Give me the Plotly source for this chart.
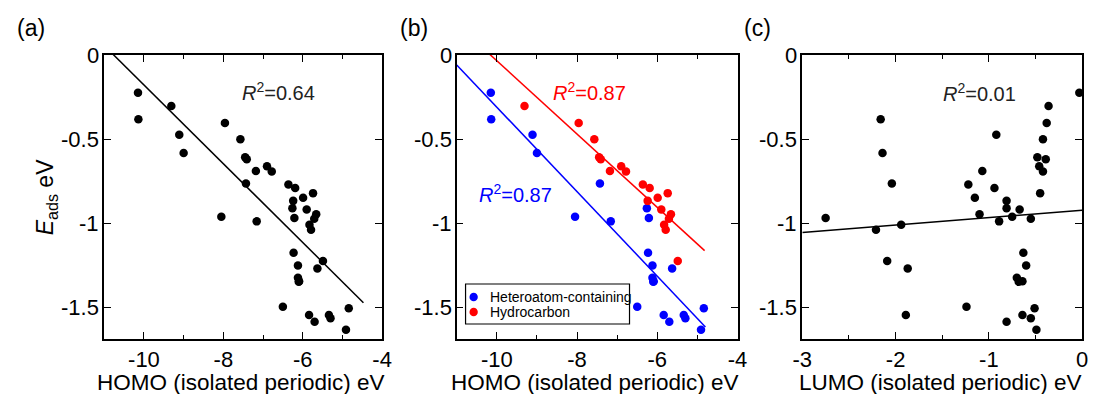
import plotly.graph_objects as go

# ---------------- data ----------------
homo = [-10.15, -9.31, -10.14, -7.96, -9.11, -7.57, -9.00, -7.45, -7.41, -6.90,
        -7.18, -6.78, -7.43, -6.36, -6.19, -5.74, -5.99, -6.24, -6.26, -5.90,
        -5.66, -8.05, -6.21, -5.71, -7.16, -5.83, -5.79, -6.23, -5.49, -6.12,
        -5.63, -6.12, -6.09, -6.10, -6.50, -4.84, -5.84, -5.34, -5.30, -5.70, -4.91]
lumo = [-0.03, -0.36, -2.16, -0.38, -0.92, -0.42, -2.14, -0.48, -0.39, -0.46,
        -1.07, -0.42, -2.04, -1.22, -0.94, -0.45, -1.15, -0.81, -0.81, -0.67,
        -1.10, -0.75, -2.75, -0.55, -0.89, -1.94, -2.21, -0.63, -2.09, -0.60,
        -1.87, -0.70, -0.64, -0.68, -1.24, -0.51, -1.89, -0.64, -0.55, -0.81, -0.49]
eads = [-0.225, -0.304, -0.383, -0.404, -0.475, -0.501, -0.583, -0.608, -0.620, -0.662,
        -0.690, -0.693, -0.764, -0.770, -0.792, -0.822, -0.850, -0.868, -0.912, -0.920,
        -0.948, -0.962, -0.970, -0.975, -0.990, -1.010, -1.040, -1.177, -1.226, -1.252,
        -1.270, -1.325, -1.347, -1.350, -1.498, -1.507, -1.547, -1.547, -1.567, -1.588, -1.635]
group = ["H", "C", "H", "C", "H", "C", "H", "C", "C", "C",
         "C", "C", "H", "C", "C", "C", "C", "C", "H", "C",
         "C", "H", "H", "C", "H", "C", "C", "H", "C", "H",
         "H", "H", "H", "H", "H", "H", "H", "H", "H", "H", "H"]

# fitted lines (endpoints)
fit_a_x = [-11.0, -4.47]
fit_a_y = [0.056, -1.474]
fit_b_hc_x = [-10.3, -4.82]
fit_b_hc_y = [0.031, -1.164]
fit_b_het_x = [-11.0, -4.80]
fit_b_het_y = [-0.059, -1.618]
fit_c_x = [-3.0, 0.0]
fit_c_y = [-1.056, -0.924]

r2_labels = ["<i>R</i><sup>2</sup>=0.64", "<i>R</i><sup>2</sup>=0.87",
             "<i>R</i><sup>2</sup>=0.87", "<i>R</i><sup>2</sup>=0.01"]
legend_names = ["Heteroatom-containing", "Hydrocarbon"]

homo_tickvals = [-10, -8, -6, -4]
homo_ticktext = ["-10", "-8", "-6", "-4"]
homo_minor = [-11, -10, -9, -8, -7, -6, -5, -4]
lumo_tickvals = [-3, -2, -1, 0]
lumo_ticktext = ["-3", "-2", "-1", "0"]
lumo_minor = [-3, -2.5, -2, -1.5, -1, -0.5, 0]
y_tickvals = [0, -0.5, -1, -1.5]
y_ticktext = ["0", "-0.5", "-1", "-1.5"]

BLUE = "#0000ff"
RED = "#ff0000"
FONT = "Liberation Sans, Arial, sans-serif"

W, H = 1099, 394
def px(x):
    return x / W
def py(y):
    return 1 - y / H

top, bottom = 55, 339
doms = [(96, 379), (455, 741), (807, 1092)]

fig = go.Figure()

het_x = [h for h, g in zip(homo, group) if g == "H"]
het_y = [e for e, g in zip(eads, group) if g == "H"]
hc_x = [h for h, g in zip(homo, group) if g == "C"]
hc_y = [e for e, g in zip(eads, group) if g == "C"]

# panel (a)
fig.add_trace(go.Scatter(x=fit_a_x, y=fit_a_y, mode="lines", line=dict(color="black", width=1.5),
                         showlegend=False, xaxis="x", yaxis="y"))
fig.add_trace(go.Scatter(x=homo, y=eads, mode="markers", marker=dict(color="black", size=8.5),
                         showlegend=False, xaxis="x", yaxis="y"))
# panel (b)
fig.add_trace(go.Scatter(x=fit_b_hc_x, y=fit_b_hc_y, mode="lines", line=dict(color=RED, width=1.5),
                         showlegend=False, xaxis="x2", yaxis="y2"))
fig.add_trace(go.Scatter(x=fit_b_het_x, y=fit_b_het_y, mode="lines", line=dict(color=BLUE, width=1.5),
                         showlegend=False, xaxis="x2", yaxis="y2"))
fig.add_trace(go.Scatter(x=het_x, y=het_y, mode="markers", marker=dict(color=BLUE, size=8.5),
                         name=legend_names[0], showlegend=False, xaxis="x2", yaxis="y2"))
fig.add_trace(go.Scatter(x=hc_x, y=hc_y, mode="markers", marker=dict(color=RED, size=8.5),
                         name=legend_names[1], showlegend=False, xaxis="x2", yaxis="y2"))
# panel (c)
fig.add_trace(go.Scatter(x=fit_c_x, y=fit_c_y, mode="lines", line=dict(color="black", width=1.5),
                         showlegend=False, xaxis="x3", yaxis="y3"))
fig.add_trace(go.Scatter(x=lumo, y=eads, mode="markers", marker=dict(color="black", size=8.5),
                         showlegend=False, xaxis="x3", yaxis="y3"))

common = dict(showline=True, linecolor="black", linewidth=1.5, mirror="ticks",
              ticks="inside", ticklen=7, tickwidth=1.3, tickcolor="black",
              showgrid=False, zeroline=False, tickfont=dict(family=FONT, size=22, color="black"))

layout = dict(width=W, height=H, margin=dict(l=0, r=0, t=0, b=0), showlegend=False,
              paper_bgcolor="white", plot_bgcolor="white", font=dict(family=FONT, color="black"))

ann = []
for i, (d0, d1) in enumerate(doms):
    sfx = "" if i == 0 else str(i + 1)
    if i < 2:
        xr, tv, tt, mv = [-11, -4], homo_tickvals, homo_ticktext, homo_minor
    else:
        xr, tv, tt, mv = [-3, 0], lumo_tickvals, lumo_ticktext, lumo_minor
    layout["xaxis" + sfx] = dict(common, domain=[px(d0), px(d1)], range=xr,
                                 tickmode="array", tickvals=tv, ticktext=tt,
                                 minor=dict(tickmode="array", tickvals=mv, ticks="inside",
                                            ticklen=4, tickwidth=1.3, tickcolor="black"),
                                 anchor="y" + sfx, ticklabelstandoff=0)
    layout["yaxis" + sfx] = dict(common, domain=[py(bottom), py(top)], range=[-1.69, 0],
                                 tickmode="array", tickvals=y_tickvals, ticktext=y_ticktext,
                                 showticklabels=False, anchor="x" + sfx)
    # y tick labels placed right next to the axis line
    for v, t in zip(y_tickvals, y_ticktext):
        ann.append(dict(x=0, y=v, xref="x%s domain" % sfx, yref="y" + sfx, text=t,
                        showarrow=False, xanchor="right", yanchor="middle", xshift=-3,
                        font=dict(family=FONT, size=22, color="black")))

fig.update_layout(**layout)

# legend box for panel (b)
shapes = [dict(type="rect", xref="paper", yref="paper", x0=px(464), x1=px(631), y0=py(324), y1=py(284),
               line=dict(color="black", width=1.2), fillcolor="white", layer="above")]
for yc, col in zip([297, 312], [BLUE, RED]):
    shapes.append(dict(type="circle", xref="paper", yref="paper", x0=px(468), x1=px(476.5),
                       y0=py(yc + 4.25), y1=py(yc - 4.25), line=dict(width=0), fillcolor=col,
                       layer="above"))
fig.update_layout(shapes=shapes)

for yc, name in zip([297, 312], legend_names):
    ann.append(dict(x=px(487), y=py(yc), xref="paper", yref="paper", text=name, showarrow=False,
                    xanchor="left", yanchor="middle", font=dict(family=FONT, size=14, color="black")))
# R^2 labels
ann.append(dict(x=-6.6, y=-0.218, xref="x", yref="y", text=r2_labels[0], showarrow=False,
                font=dict(family=FONT, size=20, color="#222")))
ann.append(dict(x=-7.70, y=-0.218, xref="x2", yref="y2", text=r2_labels[1], showarrow=False,
                font=dict(family=FONT, size=20, color=RED)))
ann.append(dict(x=-9.54, y=-0.822, xref="x2", yref="y2", text=r2_labels[2], showarrow=False,
                font=dict(family=FONT, size=20, color=BLUE)))
ann.append(dict(x=-1.095, y=-0.221, xref="x3", yref="y3", text=r2_labels[3], showarrow=False,
                font=dict(family=FONT, size=20, color="#222")))
# axis titles
xt = ["HOMO (isolated periodic) eV", "HOMO (isolated periodic) eV", "LUMO (isolated periodic) eV"]
for (d0, d1), t in zip(doms, xt):
    ann.append(dict(x=px((d0 + d1) / 2 - 2), y=py(382), xref="paper", yref="paper", text=t,
                    showarrow=False, xanchor="center", yanchor="middle",
                    font=dict(family=FONT, size=22.5, color="black")))
ann.append(dict(x=px(37), y=py(197), xref="paper", yref="paper", text="<i>E</i><sub>ads</sub> eV",
                textangle=-90, showarrow=False, xanchor="center", yanchor="middle",
                font=dict(family=FONT, size=23, color="black")))
# panel labels
for lab, xl in zip(["(a)", "(b)", "(c)"], [5, 395, 746]):
    ann.append(dict(x=px(xl), y=py(28), xref="paper", yref="paper", text=lab, showarrow=False,
                    xanchor="left", yanchor="middle", font=dict(family=FONT, size=23, color="black")))
fig.update_layout(annotations=ann)

fig.write_html("out.html")
